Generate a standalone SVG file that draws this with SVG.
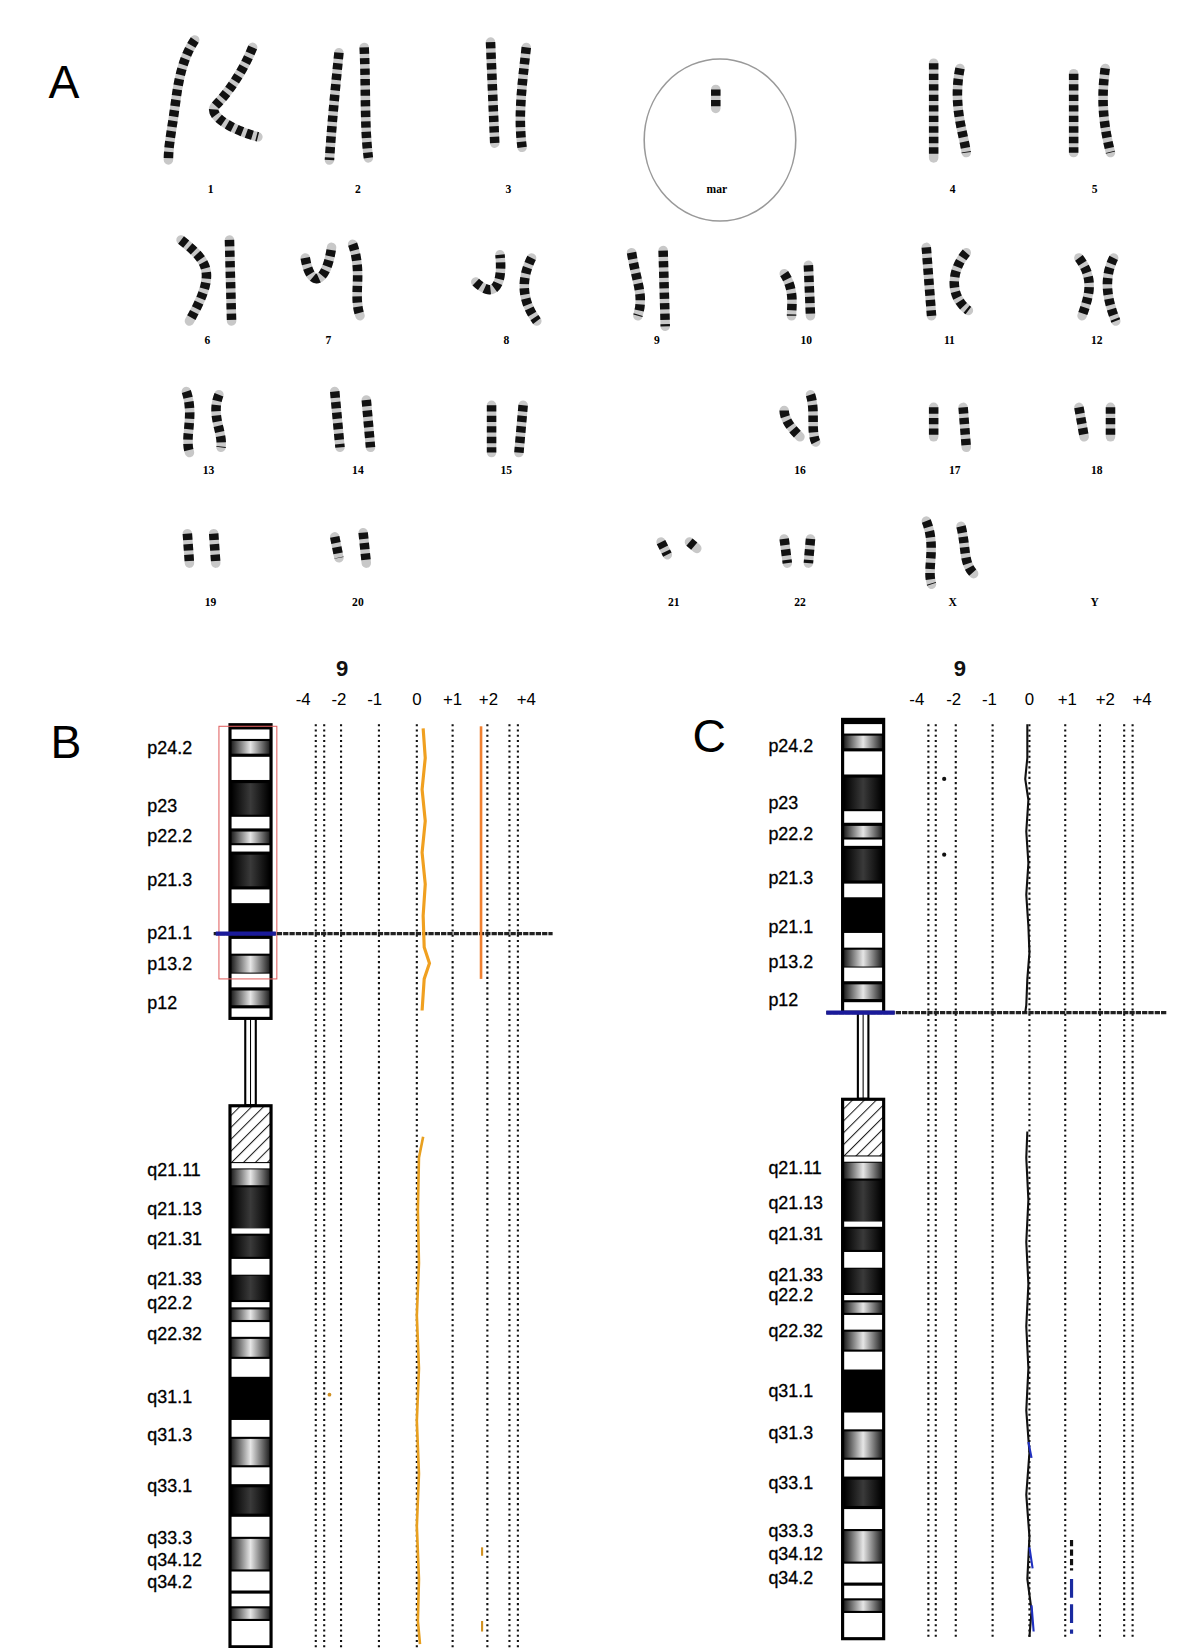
<svg xmlns="http://www.w3.org/2000/svg" xmlns:xlink="http://www.w3.org/1999/xlink" width="1200" height="1648" viewBox="0 0 1200 1648">
<style>
.pl{font-family:"Liberation Sans",Arial,sans-serif;font-size:44px;fill:#000}
.kl{font-family:"Liberation Serif","Times New Roman",serif;font-size:11px;font-weight:bold;fill:#000;text-anchor:middle}
.bl{font-family:"Liberation Sans",Arial,sans-serif;font-size:17px;fill:#000;stroke:#000;stroke-width:0.3}
.ax{font-family:"Liberation Sans",Arial,sans-serif;font-size:16px;fill:#000;text-anchor:middle}
.nine{font-family:"Liberation Sans",Arial,sans-serif;font-size:21px;font-weight:bold;fill:#111;text-anchor:middle}
.dot{stroke:#111;stroke-width:2;stroke-dasharray:2 3;fill:none}
.ku{fill:none;stroke:#c8c8c8;stroke-width:9;stroke-linecap:round}
.kd{fill:none;stroke:#111;stroke-width:9;stroke-dasharray:6 4}
.w{fill:#fff}
.g{fill:url(#gr)}
.k{fill:url(#bk)}
</style>
<defs>
<linearGradient id="gr" x1="0" x2="1" y1="0" y2="0"><stop offset="0" stop-color="#222"/><stop offset="0.5" stop-color="#e6e6e6"/><stop offset="1" stop-color="#222"/></linearGradient>
<linearGradient id="bk" x1="0" x2="1" y1="0" y2="0"><stop offset="0" stop-color="#000"/><stop offset="0.5" stop-color="#3a3a3a"/><stop offset="1" stop-color="#000"/></linearGradient>
<pattern id="hatch" width="8" height="8" patternUnits="userSpaceOnUse" patternTransform="rotate(45)"><rect width="8" height="8" fill="#fff"/><line x1="0" y1="0" x2="0" y2="8" stroke="#222" stroke-width="2"/></pattern>
<g id="chr9">
<rect x="218" y="688" width="40" height="280" fill="#000" stroke="#000" stroke-width="2"/>
<rect class="w" x="220" y="693" width="36" height="9"/>
<rect class="g" x="220" y="704" width="36" height="12"/>
<rect class="w" x="220" y="719" width="36" height="22"/>
<rect class="k" x="220" y="744" width="36" height="30"/>
<rect class="w" x="220" y="776" width="36" height="11"/>
<rect class="g" x="220" y="790" width="36" height="11"/>
<rect class="w" x="220" y="803" width="36" height="6"/>
<rect class="k" x="220" y="812" width="36" height="30"/>
<rect class="w" x="220" y="845" width="36" height="13"/>
<rect class="w" x="220" y="892" width="36" height="14"/>
<rect class="g" x="220" y="908" width="36" height="16"/>
<rect class="w" x="220" y="925" width="36" height="13"/>
<rect class="g" x="220" y="941" width="36" height="14"/>
<rect class="w" x="220" y="958" width="36" height="8"/>
<rect x="233" y="968" width="10" height="82" fill="#fff" stroke="#000" stroke-width="2"/>
<line x1="238" y1="968" x2="238" y2="1050" stroke="#000" stroke-width="1"/>
<rect x="218" y="1050" width="40" height="515" fill="#000" stroke="#000" stroke-width="2"/>
<rect x="220" y="1052" width="36" height="52" fill="url(#hatch)"/>
<rect class="w" x="220" y="1105" width="36" height="5"/>
<rect class="g" x="220" y="1111" width="36" height="15"/>
<rect class="k" x="220" y="1128" width="36" height="39"/>
<rect class="w" x="220" y="1167" width="36" height="5"/>
<rect class="k" x="220" y="1174" width="36" height="20"/>
<rect class="w" x="220" y="1196" width="36" height="15"/>
<rect class="k" x="220" y="1212" width="36" height="23"/>
<rect class="w" x="220" y="1237" width="36" height="5"/>
<rect class="g" x="220" y="1244" width="36" height="10"/>
<rect class="w" x="220" y="1256" width="36" height="14"/>
<rect class="g" x="220" y="1272" width="36" height="17"/>
<rect class="w" x="220" y="1291" width="36" height="17"/>
<rect class="w" x="220" y="1349" width="36" height="16"/>
<rect class="g" x="220" y="1367" width="36" height="25"/>
<rect class="w" x="220" y="1394" width="36" height="16"/>
<rect class="k" x="220" y="1413" width="36" height="25"/>
<rect class="w" x="220" y="1441" width="36" height="19"/>
<rect class="g" x="220" y="1462" width="36" height="29"/>
<rect class="w" x="220" y="1493" width="36" height="18"/>
<rect class="w" x="220" y="1514" width="36" height="12"/>
<rect class="g" x="220" y="1528" width="36" height="10"/>
<rect class="w" x="220" y="1540" width="36" height="23"/>
</g>
</defs>
<rect width="1200" height="1648" fill="#fff"/>
<g transform="scale(1.0526)">
<g id="panelA">
<text class="pl" x="46" y="93">A</text>
<ellipse cx="684" cy="133" rx="72" ry="77" fill="none" stroke="#999" stroke-width="1.5"/>
<g id="k1"><path class="ku" d="M185 38 C170 60 168 90 165 110 S160 140 160 152"/><path class="kd" d="M185 38 C170 60 168 90 165 110 S160 140 160 152"/><path class="ku" d="M240 45 C230 70 215 90 205 100 S225 125 245 130"/><path class="kd" d="M240 45 C230 70 215 90 205 100 S225 125 245 130"/></g>
<g id="k2"><path class="ku" d="M322 50 C318 90 315 120 313 152"/><path class="kd" d="M322 50 C318 90 315 120 313 152"/><path class="ku" d="M346 45 C348 90 346 120 350 150"/><path class="kd" d="M346 45 C348 90 346 120 350 150"/></g>
<g id="k3"><path class="ku" d="M466 40 L470 136"/><path class="kd" d="M466 40 L470 136"/><path class="ku" d="M500 45 C496 80 492 110 496 140"/><path class="kd" d="M500 45 C496 80 492 110 496 140"/></g>
<g id="kmar"><path class="ku" d="M680 85 L680 103"/><path class="kd" d="M680 85 L680 103"/></g>
<g id="k4"><path class="ku" d="M887 60 L887 150"/><path class="kd" d="M887 60 L887 150"/><path class="ku" d="M912 65 C905 100 915 125 918 145"/><path class="kd" d="M912 65 C905 100 915 125 918 145"/></g>
<g id="k5"><path class="ku" d="M1020 70 L1020 145"/><path class="kd" d="M1020 70 L1020 145"/><path class="ku" d="M1050 65 C1045 100 1050 125 1055 145"/><path class="kd" d="M1050 65 C1045 100 1050 125 1055 145"/></g>
<text class="kl" x="200" y="183">1</text><text class="kl" x="340" y="183">2</text><text class="kl" x="483" y="183">3</text><text class="kl" x="681" y="183">mar</text><text class="kl" x="905" y="183">4</text><text class="kl" x="1040" y="183">5</text>
<g id="k6"><path class="ku" d="M172 228 C200 250 205 260 180 305"/><path class="kd" d="M172 228 C200 250 205 260 180 305"/><path class="ku" d="M218 228 L220 305"/><path class="kd" d="M218 228 L220 305"/></g>
<g id="k7"><path class="ku" d="M290 245 C295 275 310 270 315 235"/><path class="kd" d="M290 245 C295 275 310 270 315 235"/><path class="ku" d="M335 232 C345 260 335 280 342 300"/><path class="kd" d="M335 232 C345 260 335 280 342 300"/></g>
<g id="k8"><path class="ku" d="M452 268 C470 285 478 270 475 242"/><path class="kd" d="M452 268 C470 285 478 270 475 242"/><path class="ku" d="M505 245 C495 265 495 285 510 305"/><path class="kd" d="M505 245 C495 265 495 285 510 305"/></g>
<g id="k9"><path class="ku" d="M600 240 C605 270 612 280 606 300"/><path class="kd" d="M600 240 C605 270 612 280 606 300"/><path class="ku" d="M630 238 L632 310"/><path class="kd" d="M630 238 L632 310"/></g>
<g id="k10"><path class="ku" d="M745 260 C755 275 752 290 752 300"/><path class="kd" d="M745 260 C755 275 752 290 752 300"/><path class="ku" d="M768 252 L770 300"/><path class="kd" d="M768 252 L770 300"/></g>
<g id="k11"><path class="ku" d="M880 235 L885 300"/><path class="kd" d="M880 235 L885 300"/><path class="ku" d="M918 240 C905 255 900 280 920 295"/><path class="kd" d="M918 240 C905 255 900 280 920 295"/></g>
<g id="k12"><path class="ku" d="M1025 245 C1040 265 1035 280 1028 300"/><path class="kd" d="M1025 245 C1040 265 1035 280 1028 300"/><path class="ku" d="M1058 245 C1048 265 1052 285 1060 305"/><path class="kd" d="M1058 245 C1048 265 1052 285 1060 305"/></g>
<text class="kl" x="197" y="327">6</text><text class="kl" x="312" y="327">7</text><text class="kl" x="481" y="327">8</text><text class="kl" x="624" y="327">9</text><text class="kl" x="766" y="327">10</text><text class="kl" x="902" y="327">11</text><text class="kl" x="1042" y="327">12</text>
<g id="k13"><path class="ku" d="M177 372 C185 395 175 415 180 430"/><path class="kd" d="M177 372 C185 395 175 415 180 430"/><path class="ku" d="M208 375 C200 395 212 410 210 425"/><path class="kd" d="M208 375 C200 395 212 410 210 425"/></g>
<g id="k14"><path class="ku" d="M318 372 L323 425"/><path class="kd" d="M318 372 L323 425"/><path class="ku" d="M348 380 L352 425"/><path class="kd" d="M348 380 L352 425"/></g>
<g id="k15"><path class="ku" d="M467 385 L467 430"/><path class="kd" d="M467 385 L467 430"/><path class="ku" d="M497 385 L493 430"/><path class="kd" d="M497 385 L493 430"/></g>
<g id="k16"><path class="ku" d="M745 390 C745 400 755 410 760 415"/><path class="kd" d="M745 390 C745 400 755 410 760 415"/><path class="ku" d="M770 375 C775 390 770 410 775 420"/><path class="kd" d="M770 375 C775 390 770 410 775 420"/></g>
<g id="k17"><path class="ku" d="M887 387 L887 415"/><path class="kd" d="M887 387 L887 415"/><path class="ku" d="M915 387 L918 425"/><path class="kd" d="M915 387 L918 425"/></g>
<g id="k18"><path class="ku" d="M1025 387 L1030 415"/><path class="kd" d="M1025 387 L1030 415"/><path class="ku" d="M1055 387 L1055 415"/><path class="kd" d="M1055 387 L1055 415"/></g>
<text class="kl" x="198" y="450">13</text><text class="kl" x="340" y="450">14</text><text class="kl" x="481" y="450">15</text><text class="kl" x="760" y="450">16</text><text class="kl" x="907" y="450">17</text><text class="kl" x="1042" y="450">18</text>
<g id="k19"><path class="ku" d="M178 507 L180 535"/><path class="kd" d="M178 507 L180 535"/><path class="ku" d="M203 507 L205 535"/><path class="kd" d="M203 507 L205 535"/></g>
<g id="k20"><path class="ku" d="M318 510 L322 530"/><path class="kd" d="M318 510 L322 530"/><path class="ku" d="M345 506 L348 535"/><path class="kd" d="M345 506 L348 535"/></g>
<g id="k21"><path class="ku" d="M628 515 L634 527"/><path class="kd" d="M628 515 L634 527"/><path class="ku" d="M655 515 L662 521"/><path class="kd" d="M655 515 L662 521"/></g>
<g id="k22"><path class="ku" d="M745 512 L748 535"/><path class="kd" d="M745 512 L748 535"/><path class="ku" d="M770 512 L768 535"/><path class="kd" d="M770 512 L768 535"/></g>
<g id="kX"><path class="ku" d="M880 495 C890 520 880 540 885 555"/><path class="kd" d="M880 495 C890 520 880 540 885 555"/><path class="ku" d="M913 500 C918 520 915 535 925 545"/><path class="kd" d="M913 500 C918 520 915 535 925 545"/></g>
<text class="kl" x="200" y="576">19</text><text class="kl" x="340" y="576">20</text><text class="kl" x="640" y="576">21</text><text class="kl" x="760" y="576">22</text><text class="kl" x="905" y="576">X</text><text class="kl" x="1040" y="576">Y</text>
</g>
<g id="panelB">
<text class="pl" x="48" y="720">B</text>
<text class="nine" x="325" y="642">9</text>
<g class="ax-labels"><text class="ax" x="288" y="670">-4</text><text class="ax" x="322" y="670">-2</text><text class="ax" x="356" y="670">-1</text><text class="ax" x="396" y="670">0</text><text class="ax" x="430" y="670">+1</text><text class="ax" x="464" y="670">+2</text><text class="ax" x="500" y="670">+4</text></g>
<g id="gridB"><line class="dot" x1="300" y1="688" x2="300" y2="1565"/><line class="dot" x1="308" y1="688" x2="308" y2="1565"/><line class="dot" x1="324" y1="688" x2="324" y2="1565"/><line class="dot" x1="360" y1="688" x2="360" y2="1565"/><line class="dot" x1="396" y1="688" x2="396" y2="1565"/><line class="dot" x1="430" y1="688" x2="430" y2="1565"/><line class="dot" x1="463" y1="688" x2="463" y2="1565"/><line class="dot" x1="484" y1="688" x2="484" y2="1565"/><line class="dot" x1="492" y1="688" x2="492" y2="1565"/></g>
<use xlink:href="#chr9" href="#chr9"/>
<rect x="208" y="690" width="55" height="240" fill="none" stroke="#e06060" stroke-width="1"/>
<line x1="203" y1="887" x2="525" y2="887" stroke="#222" stroke-width="3" stroke-dasharray="5 1"/>
<line x1="205" y1="887" x2="262" y2="887" stroke="#1a1a9a" stroke-width="4"/>
<path d="M402 692 L404 720 L401 750 L404 780 L401 810 L404 840 L402 870 L403 900 L408 915 L403 930 L401 960" fill="none" stroke="#f0a020" stroke-width="3"/>
<line x1="457" y1="690" x2="457" y2="930" stroke="#f08030" stroke-width="2.5"/>
<path d="M402 1080 L398 1100 L397 1150 L398 1200 L396 1250 L398 1300 L396 1350 L398 1400 L396 1450 L398 1500 L397 1540 L399 1562" fill="none" stroke="#e8a020" stroke-width="2.5"/>
<circle cx="313" cy="1325" r="1.8" fill="#d09020"/>
<line x1="458" y1="1470" x2="458" y2="1478" stroke="#d09020" stroke-width="2"/>
<line x1="458" y1="1540" x2="458" y2="1550" stroke="#d09020" stroke-width="2"/>
<g class="bands"><text class="bl" x="140" y="716">p24.2</text><text class="bl" x="140" y="771">p23</text><text class="bl" x="140" y="800">p22.2</text><text class="bl" x="140" y="842">p21.3</text><text class="bl" x="140" y="892">p21.1</text><text class="bl" x="140" y="922">p13.2</text><text class="bl" x="140" y="959">p12</text>
<text class="bl" x="140" y="1117">q21.11</text><text class="bl" x="140" y="1154">q21.13</text><text class="bl" x="140" y="1183">q21.31</text><text class="bl" x="140" y="1221">q21.33</text><text class="bl" x="140" y="1244">q22.2</text><text class="bl" x="140" y="1273">q22.32</text><text class="bl" x="140" y="1333">q31.1</text><text class="bl" x="140" y="1369">q31.3</text><text class="bl" x="140" y="1417">q33.1</text><text class="bl" x="140" y="1467">q33.3</text><text class="bl" x="140" y="1488">q34.12</text><text class="bl" x="140" y="1509">q34.2</text></g>
</g>
<g id="panelC">
<text class="pl" x="658" y="714">C</text>
<text class="nine" x="912" y="642">9</text>
<g class="ax-labels"><text class="ax" x="871" y="670">-4</text><text class="ax" x="906" y="670">-2</text><text class="ax" x="940" y="670">-1</text><text class="ax" x="978" y="670">0</text><text class="ax" x="1014" y="670">+1</text><text class="ax" x="1050" y="670">+2</text><text class="ax" x="1085" y="670">+4</text></g>
<g id="gridC"><line class="dot" x1="882" y1="688" x2="882" y2="1558"/><line class="dot" x1="889" y1="688" x2="889" y2="1558"/><line class="dot" x1="908" y1="688" x2="908" y2="1558"/><line class="dot" x1="943" y1="688" x2="943" y2="1558"/><line class="dot" x1="978" y1="688" x2="978" y2="1558"/><line class="dot" x1="1012" y1="688" x2="1012" y2="1558"/><line class="dot" x1="1045" y1="688" x2="1045" y2="1558"/><line class="dot" x1="1068" y1="688" x2="1068" y2="1558"/><line class="dot" x1="1076" y1="688" x2="1076" y2="1558"/></g>
<g transform="translate(582,-3) scale(1,0.997)"><use xlink:href="#chr9" href="#chr9"/></g>
<line x1="785" y1="962" x2="1108" y2="962" stroke="#222" stroke-width="3" stroke-dasharray="5 1"/>
<line x1="785" y1="962" x2="850" y2="962" stroke="#1a1a9a" stroke-width="4"/>
<circle cx="897" cy="740" r="2" fill="#111"/><circle cx="897" cy="812" r="2" fill="#111"/>
<path d="M976 688 L976 720 L974 740 L977 760 L975 790 L977 820 L975 850 L977 880 L978 905 L976 930 L975 955 L974 962" fill="none" stroke="#111" stroke-width="2"/>
<path d="M976 1075 L975 1100 L977 1140 L975 1180 L977 1220 L975 1260 L977 1300 L975 1340 L978 1380 L975 1420 L978 1460 L976 1500 L980 1530 L978 1555" fill="none" stroke="#111" stroke-width="2"/>
<path d="M977 1370 L980 1385 M978 1470 L981 1490 M980 1525 L982 1550" fill="none" stroke="#2030c0" stroke-width="2"/>
<line x1="1018" y1="1463" x2="1018" y2="1492" stroke="#111" stroke-width="3" stroke-dasharray="6 3"/>
<line x1="1018" y1="1500" x2="1018" y2="1552" stroke="#1a2aa0" stroke-width="3" stroke-dasharray="18 6"/>
<g class="bands"><text class="bl" x="730" y="714">p24.2</text><text class="bl" x="730" y="769">p23</text><text class="bl" x="730" y="798">p22.2</text><text class="bl" x="730" y="840">p21.3</text><text class="bl" x="730" y="886">p21.1</text><text class="bl" x="730" y="920">p13.2</text><text class="bl" x="730" y="956">p12</text>
<text class="bl" x="730" y="1115">q21.11</text><text class="bl" x="730" y="1149">q21.13</text><text class="bl" x="730" y="1178">q21.31</text><text class="bl" x="730" y="1217">q21.33</text><text class="bl" x="730" y="1236">q22.2</text><text class="bl" x="730" y="1270">q22.32</text><text class="bl" x="730" y="1327">q31.1</text><text class="bl" x="730" y="1367">q31.3</text><text class="bl" x="730" y="1415">q33.1</text><text class="bl" x="730" y="1460">q33.3</text><text class="bl" x="730" y="1482">q34.12</text><text class="bl" x="730" y="1505">q34.2</text></g>
</g>
</g>
</svg>
